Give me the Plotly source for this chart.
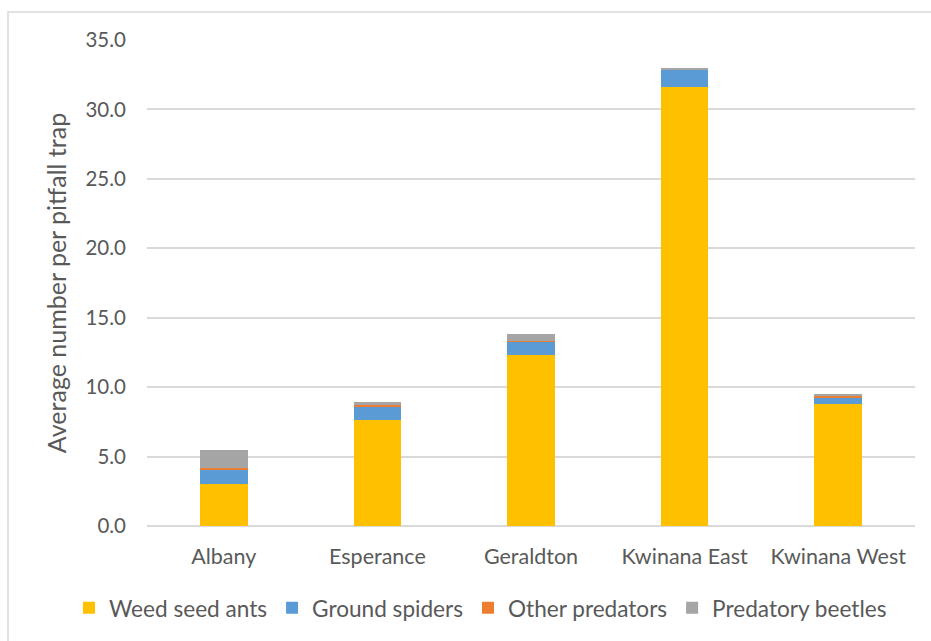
import plotly.graph_objects as go

sites = ["Albany", "Esperance", "Geraldton", "Kwinana East", "Kwinana West"]
weed_seed_ants = [3.0, 7.6, 12.3, 31.6, 8.8]
ground_spiders = [1.0, 1.0, 1.0, 1.25, 0.45]
other_predators = [0.2, 0.15, 0.05, 0.02, 0.1]
predatory_beetles = [1.25, 0.2, 0.5, 0.1, 0.15]
y_ticks = [0, 5, 10, 15, 20, 25, 30, 35]

series = [
    ("Weed seed ants", weed_seed_ants, "#FFC000"),
    ("Ground spiders", ground_spiders, "#5B9BD5"),
    ("Other predators", other_predators, "#ED7D31"),
    ("Predatory beetles", predatory_beetles, "#A5A5A5"),
]

FONT = "Lato, Carlito, Calibri, sans-serif"
TXT = "#595959"

fig = go.Figure()
for name, vals, col in series:
    fig.add_trace(go.Bar(x=sites, y=vals, name=name, marker=dict(color=col, line=dict(width=0))))

W, H = 931, 641
L, R, T, B = 147, 16, 40, 115
pw, ph = W - L - R, H - T - B

def px(x):
    return (x - L) / pw

def py(y):
    return (H - B - y) / ph

fig.update_layout(
    barmode="stack",
    bargap=0.69,
    width=W,
    height=H,
    margin=dict(l=L, r=R, t=T, b=B),
    paper_bgcolor="white",
    plot_bgcolor="white",
    font=dict(family=FONT, color=TXT, size=20),
    showlegend=True,
    legend=dict(
        orientation="h",
        x=px(69),
        xanchor="left",
        y=py(608),
        yanchor="middle",
        font=dict(size=22.6, color=TXT),
        itemwidth=30,
        traceorder="normal",
    ),
    xaxis=dict(
        showgrid=False,
        showline=False,
        ticks="",
        tickfont=dict(size=21.5, color=TXT),
        ticklabelstandoff=15,
    ),
    yaxis=dict(
        range=[0, 35],
        tickvals=y_ticks,
        tickformat=".1f",
        showgrid=True,
        gridcolor="#D9D9D9",
        gridwidth=1.5,
        zeroline=True,
        zerolinecolor="#D9D9D9",
        zerolinewidth=1.5,
        showline=False,
        ticks="",
        tickfont=dict(size=20.5, color=TXT),
        ticklabelstandoff=20,
        title=dict(text="Average number per pitfall trap", font=dict(size=25, color=TXT), standoff=11),
    ),
    shapes=[
        dict(
            type="rect",
            xref="paper",
            yref="paper",
            x0=px(8),
            x1=px(940),
            y0=py(650),
            y1=py(12),
            line=dict(color="#D9D9D9", width=1.5),
            fillcolor="rgba(0,0,0,0)",
            layer="below",
        )
    ],
)

fig.write_html("out.html")
